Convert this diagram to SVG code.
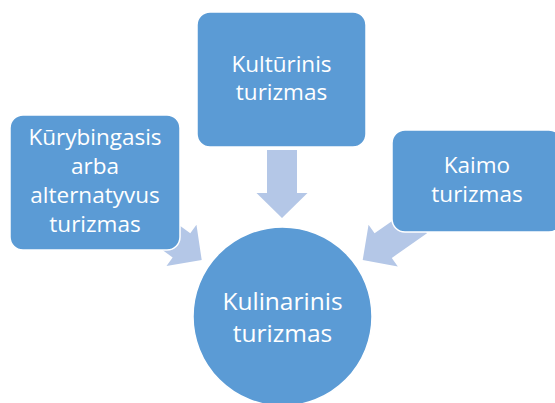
<svg xmlns="http://www.w3.org/2000/svg" width="555" height="403" viewBox="0 0 555 403">
<defs>
<style>
.node{fill:#5b9bd5;stroke:#ffffff;stroke-width:1.5}
.arrow{fill:#b4c7e7}
.lbl{font-family:"Open Sans","Liberation Sans",sans-serif;font-size:22.5px;fill:#ffffff;text-anchor:middle}
.big{font-size:24.5px}
</style>
<path id="arr" d="M-15,-68 L15,-68 L15,-25 L25.5,-25 L0,0 L-25.5,-25 L-15,-25 Z"/>
</defs>
<rect width="555" height="403" fill="#ffffff"/>
<g id="connectors">
<use href="#arr" class="arrow" transform="translate(282,218)"/>
<use href="#arr" class="arrow" transform="translate(201.7,260) rotate(-54)"/>
<use href="#arr" class="arrow" transform="translate(362.7,260) rotate(55)"/>
</g>
<g id="node-kulturinis">
<rect class="node" x="197" y="12" width="169" height="135" rx="13"/>
<text class="lbl" x="281.5" y="72">Kultūrinis</text>
<text class="lbl" x="281.5" y="100">turizmas</text>
</g>
<g id="node-kurybingasis">
<rect class="node" x="10" y="115" width="170" height="135" rx="13"/>
<text class="lbl" x="95" y="145">Kūrybingasis</text>
<text class="lbl" x="95" y="174">arba</text>
<text class="lbl" x="95" y="203">alternatyvus</text>
<text class="lbl" x="95" y="232">turizmas</text>
</g>
<g id="node-kaimo">
<rect class="node" x="392" y="130" width="170" height="102" rx="13"/>
<text class="lbl" x="477" y="173">Kaimo</text>
<text class="lbl" x="477" y="202">turizmas</text>
</g>
<g id="node-kulinarinis">
<circle class="node" cx="282.5" cy="316.5" r="89.5"/>
<text class="lbl big" x="282.5" y="310">Kulinarinis</text>
<text class="lbl big" x="282.5" y="342">turizmas</text>
</g>
</svg>
